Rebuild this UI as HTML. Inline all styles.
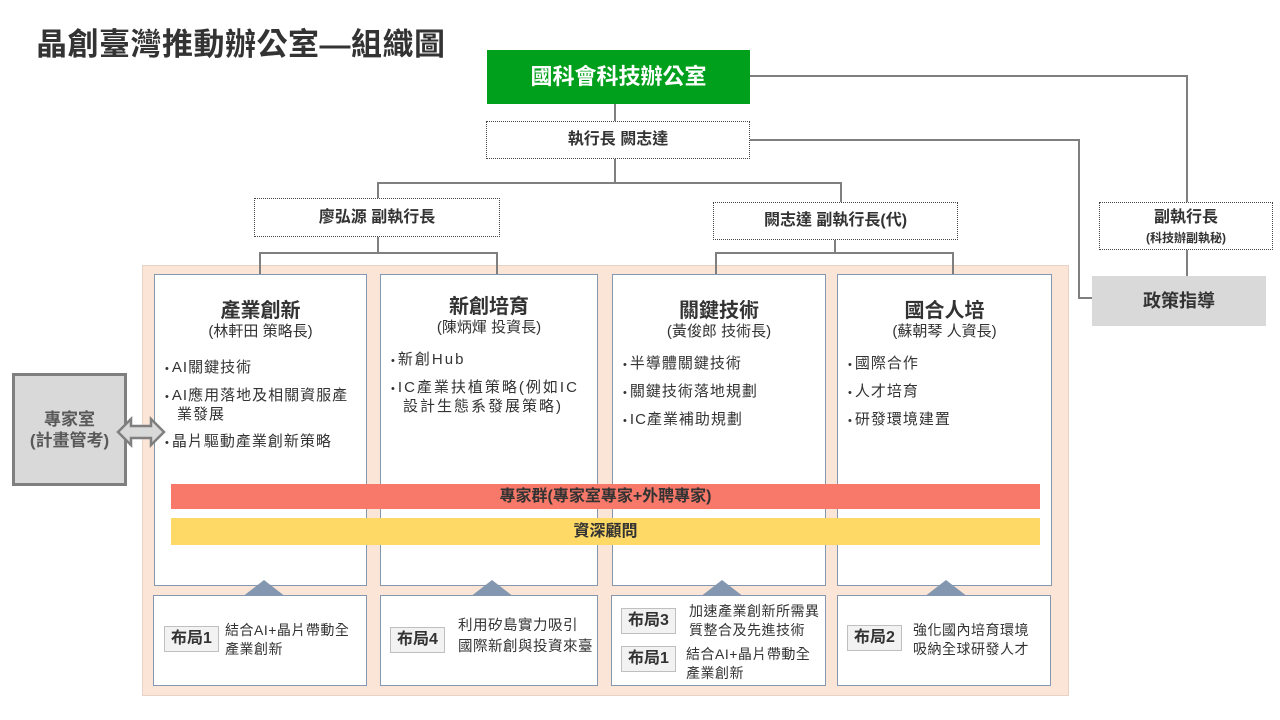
<!DOCTYPE html><html><head><meta charset="utf-8"><style>
body{margin:0;width:1280px;height:720px;background:#fff;position:relative;overflow:hidden;font-family:"Liberation Sans","Noto Sans CJK TC",sans-serif;color:#333}
div{position:absolute;box-sizing:border-box}
.ln{background:#7f7f7f}
.dot{border:1.5px dotted #444;background:#fff;text-align:center;font-weight:bold;font-size:16px;color:#333}
.col{background:#fff;border:1px solid #8497b0;top:274px;height:312px}
.col div{position:static}
.col h3{margin:24px 0 0;text-align:center;font-size:20px;font-weight:bold;line-height:24px}
.col .s{text-align:center;font-size:15px;line-height:18px}
.col ul{margin:18px 0 0 10px;padding:0 8px 0 0;list-style:none;font-size:15px;line-height:18px;letter-spacing:1px}
.col li{margin-bottom:9px;padding-left:12px;text-indent:-12px}
.col li:before{content:"• ";font-size:11px;letter-spacing:0}
.bx{background:#fff;border:1px solid #8497b0;top:595px;height:91px}
.tag{position:absolute;background:#f2f2f2;border:1px solid #bfbfbf;font-weight:bold;font-size:16px;padding:2px 6px;line-height:20px}
.t{position:absolute;font-size:14px;line-height:19px;letter-spacing:0.5px}
.tri{width:0;height:0;border-left:22px solid transparent;border-right:22px solid transparent;border-bottom:17px solid #8497b0;top:580px}
</style></head><body>
<div style="left:36px;top:19px;font-size:31px;font-weight:bold;color:#333;letter-spacing:0.5px">晶創臺灣推動辦公室—組織圖</div>
<div style="left:487px;top:50px;width:263px;height:54px;background:#00a01c;color:#fff;font-weight:bold;font-size:22px;text-align:center;line-height:54px">國科會科技辦公室</div>
<div class="ln" style="left:750px;top:75px;width:438px;height:2px"></div>
<div class="ln" style="left:1186px;top:75px;width:2px;height:127px"></div>
<div class="ln" style="left:750px;top:139px;width:330px;height:2px"></div>
<div class="ln" style="left:1078px;top:139px;width:2px;height:160px"></div>
<div class="ln" style="left:1078px;top:297px;width:14px;height:2px"></div>
<div class="ln" style="left:614px;top:104px;width:2px;height:17px"></div>
<div class="dot" style="left:486px;top:121px;width:264px;height:38px;line-height:36px">執行長 闕志達</div>
<div class="ln" style="left:614px;top:159px;width:2px;height:24px"></div>
<div class="ln" style="left:377px;top:182px;width:465px;height:2px"></div>
<div class="ln" style="left:377px;top:182px;width:2px;height:16px"></div>
<div class="ln" style="left:840px;top:182px;width:2px;height:20px"></div>
<div class="dot" style="left:254px;top:198px;width:246px;height:39px;line-height:37px">廖弘源 副執行長</div>
<div class="dot" style="left:713px;top:202px;width:245px;height:38px;line-height:36px">闕志達 副執行長(代)</div>
<div class="dot" style="left:1099px;top:202px;width:174px;height:48px;padding-top:5px;line-height:20px">副執行長<br><span style="font-size:12px;line-height:14px">(科技辦副執秘)</span></div>
<div class="ln" style="left:1186px;top:250px;width:2px;height:26px"></div>
<div style="left:1092px;top:276px;width:174px;height:50px;background:#d9d9d9;font-weight:bold;font-size:18px;text-align:center;line-height:50px;color:#333">政策指導</div>
<div style="left:142px;top:265px;width:927px;height:431px;background:#fbe5d6;border:1px solid #e6d3c5"></div>
<div class="ln" style="left:377px;top:237px;width:2px;height:17px"></div>
<div class="ln" style="left:259px;top:252px;width:239px;height:2px"></div>
<div class="ln" style="left:259px;top:252px;width:2px;height:22px"></div>
<div class="ln" style="left:496px;top:252px;width:2px;height:22px"></div>
<div class="ln" style="left:834px;top:240px;width:2px;height:14px"></div>
<div class="ln" style="left:715px;top:252px;width:239px;height:2px"></div>
<div class="ln" style="left:715px;top:252px;width:2px;height:22px"></div>
<div class="ln" style="left:952px;top:252px;width:2px;height:22px"></div>
<div class="col" style="left:154px;width:213px"><h3>產業創新</h3><div class="s">(林軒田 策略長)</div><ul><li>AI關鍵技術</li><li>AI應用落地及相關資服產業發展</li><li>晶片驅動產業創新策略</li></ul></div>
<div class="col" style="left:380px;width:218px"><h3 style="margin-top:20px">新創培育</h3><div class="s">(陳炳煇 投資長)</div><ul style="margin-top:14px;letter-spacing:2px"><li>新創Hub</li><li>IC產業扶植策略(例如IC設計生態系發展策略)</li></ul></div>
<div class="col" style="left:612px;width:214px"><h3>關鍵技術</h3><div class="s">(黃俊郎 技術長)</div><ul style="margin-top:14px"><li>半導體關鍵技術</li><li>關鍵技術落地規劃</li><li>IC產業補助規劃</li></ul></div>
<div class="col" style="left:837px;width:215px"><h3>國合人培</h3><div class="s">(蘇朝琴 人資長)</div><ul style="margin-top:14px"><li>國際合作</li><li>人才培育</li><li>研發環境建置</li></ul></div>
<div style="left:171px;top:484px;width:869px;height:25px;background:#f8796a;text-align:center;font-weight:bold;font-size:16px;line-height:25px">專家群(專家室專家+外聘專家)</div>
<div style="left:171px;top:518px;width:869px;height:27px;background:#ffd966;text-align:center;font-weight:bold;font-size:16px;line-height:27px">資深顧問</div>
<div class="tri" style="left:242px"></div><div class="tri" style="left:470px"></div><div class="tri" style="left:700px"></div><div class="tri" style="left:924px"></div>
<div class="bx" style="left:153px;width:214px"><span class="tag" style="left:10px;top:30px">布局1</span><span class="t" style="left:71px;top:25px">結合AI+晶片帶動全<br>產業創新</span></div>
<div class="bx" style="left:380px;width:218px"><span class="tag" style="left:9px;top:31px">布局4</span><span class="t" style="left:77px;top:20px;font-size:14.5px;line-height:21px">利用矽島實力吸引<br>國際新創與投資來臺</span></div>
<div class="bx" style="left:611px;width:215px"><span class="tag" style="left:9px;top:12px">布局3</span><span class="t" style="left:77px;top:6px">加速產業創新所需異<br>質整合及先進技術</span><span class="tag" style="left:9px;top:50px">布局1</span><span class="t" style="left:74px;top:49px">結合AI+晶片帶動全<br>產業創新</span></div>
<div class="bx" style="left:837px;width:214px"><span class="tag" style="left:9px;top:29px">布局2</span><span class="t" style="left:75px;top:25px">強化國內培育環境<br>吸納全球研發人才</span></div>
<div style="left:12px;top:373px;width:115px;height:113px;background:#d9d9d9;border:3px solid #7f7f7f;text-align:center;font-weight:bold;font-size:17px;color:#595959;padding-top:33px;line-height:21px">專家室<br>(計畫管考)</div>
<svg style="position:absolute;left:116px;top:416px" width="50" height="32"><polygon points="2,16 15,3 15,10 35,10 35,3 48,16 35,29 35,22 15,22 15,29" fill="#d9d9d9" stroke="#7f7f7f" stroke-width="2.5"/></svg>
</body></html>
